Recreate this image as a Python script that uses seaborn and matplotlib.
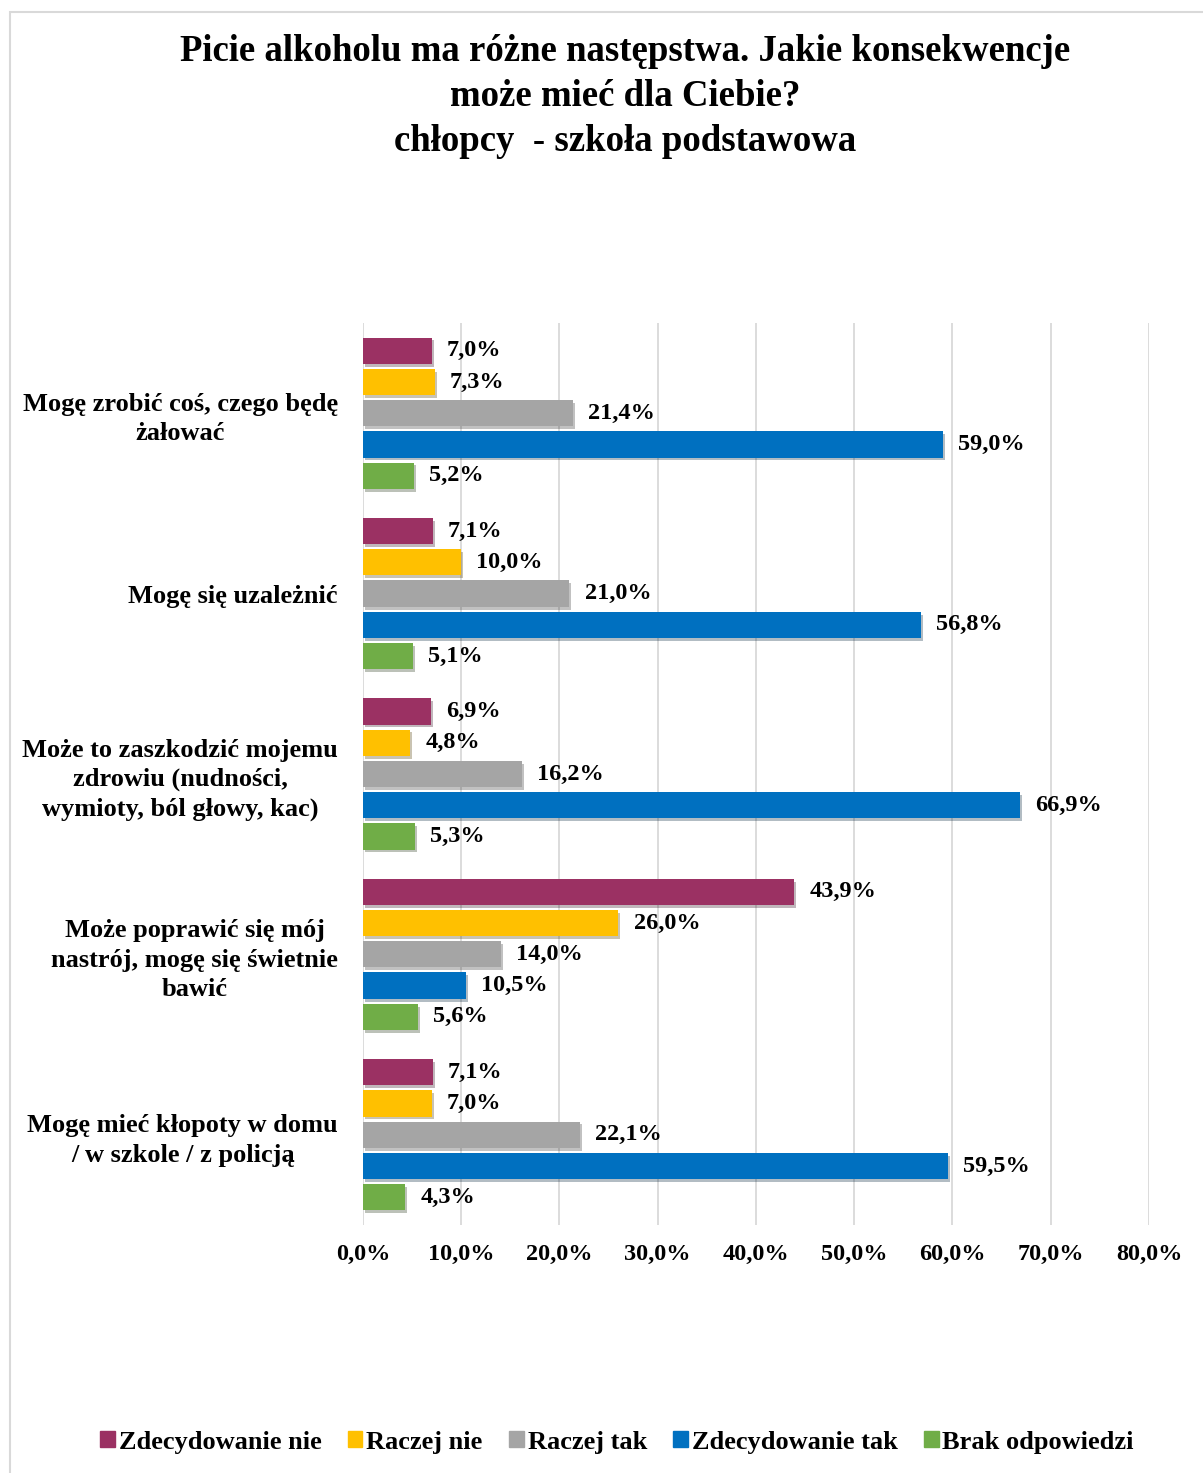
import matplotlib
matplotlib.use("Agg")
import matplotlib.pyplot as plt
import matplotlib.patheffects as pe
from matplotlib.patches import Rectangle
import seaborn as sns
import pandas as pd

# Data
categories = [
    "Mogę zrobić coś, czego będę\nżałować",
    "Mogę się uzależnić",
    "Może to zaszkodzić mojemu\nzdrowiu (nudności,\nwymioty, ból głowy, kac)",
    "Może poprawić się mój\nnastrój, mogę się świetnie\nbawić",
    "Mogę mieć kłopoty w domu\n/ w szkole / z policją",
]
answers = ["Zdecydowanie nie", "Raczej nie", "Raczej tak", "Zdecydowanie tak", "Brak odpowiedzi"]
zdecydowanie_nie = [7.0, 7.1, 6.9, 43.9, 7.1]
raczej_nie = [7.3, 10.0, 4.8, 26.0, 7.0]
raczej_tak = [21.4, 21.0, 16.2, 14.0, 22.1]
zdecydowanie_tak = [59.0, 56.8, 66.9, 10.5, 59.5]
brak_odpowiedzi = [5.2, 5.1, 5.3, 5.6, 4.3]
x_ticks = [0, 10, 20, 30, 40, 50, 60, 70, 80]

colors = ["#9B3163", "#FFC000", "#A5A5A5", "#0070C0", "#70AD47"]

series = [zdecydowanie_nie, raczej_nie, raczej_tak, zdecydowanie_tak, brak_odpowiedzi]
rows = []
for name, vals in zip(answers, series):
    for cat, v in zip(categories, vals):
        rows.append({"kategoria": cat, "odpowiedz": name, "wartosc": v})
df = pd.DataFrame(rows)

sns.set_style("white")
plt.rcParams["font.family"] = ["Liberation Serif", "DejaVu Serif"]
plt.rcParams["font.weight"] = "bold"
plt.rcParams["text.color"] = "black"
plt.rcParams["xtick.color"] = "black"
plt.rcParams["ytick.color"] = "black"

fig = plt.figure(figsize=(12.03, 14.73), dpi=100)
ax = fig.add_axes([0.3017, 0.1684, 0.9551 - 0.3017, 0.7807 - 0.1684])

sns.barplot(data=df, y="kategoria", x="wartosc", hue="odpowiedz",
            order=categories, hue_order=answers, palette=colors,
            orient="h", width=0.866, gap=0.16, ax=ax, legend=False,
            saturation=1, edgecolor="none")

shadow = [pe.SimplePatchShadow(offset=(1.5, -2), alpha=0.3), pe.Normal()]
for cont in ax.containers:
    for p in cont.patches:
        p.set_path_effects(shadow)
    ax.bar_label(cont, labels=[f"{v:.1f}%".replace(".", ",") for v in cont.datavalues],
                 padding=11, fontsize=17.5, fontweight="bold")

ax.set_xlim(0, 80)
ax.set_xticks(x_ticks)
ax.set_xticklabels([f"{t:.1f}%".replace(".", ",") for t in x_ticks], fontsize=17.5, fontweight="bold")
ax.set_yticks(range(len(categories)))
ax.set_yticklabels(categories, fontsize=19, fontweight="bold", multialignment="center",
                   linespacing=1.35)
ax.tick_params(axis="y", length=0, pad=18)
ax.tick_params(axis="x", length=0, pad=14)
ax.set_xlabel("")
ax.set_ylabel("")
ax.grid(axis="x", color="#D9D9D9", linewidth=1.3)
ax.set_axisbelow(True)
for s in ax.spines.values():
    s.set_visible(False)

fig.suptitle("Picie alkoholu ma różne następstwa. Jakie konsekwencje\nmoże mieć dla Ciebie?\nchłopcy  - szkoła podstawowa",
             x=0.52, y=0.977, fontsize=26.5, fontweight="bold", linespacing=1.38)

handles = [Rectangle((0, 0), 1, 1, color=c) for c in colors]
fig.legend(handles, answers, loc="center", bbox_to_anchor=(0.513, 0.021), ncol=5,
           frameon=False, handlelength=0.55, handleheight=0.55,
           handletextpad=0.15, columnspacing=1.0, prop={"weight": "bold", "size": 19})

fig.patches.append(Rectangle((0.008, -0.01), 1.2, 1.002, transform=fig.transFigure,
                             fill=False, edgecolor="#D9D9D9", linewidth=1.5))

fig.savefig("out.png", dpi=100)
